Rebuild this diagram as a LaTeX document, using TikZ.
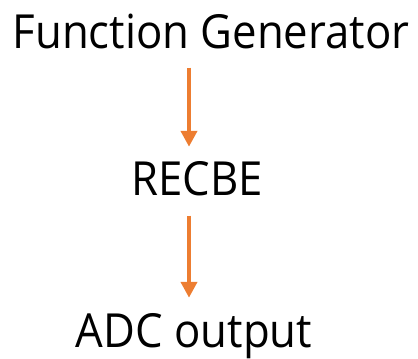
\documentclass[tikz,border=0pt]{standalone}
\usepackage{fontspec}
\setmainfont[FakeStretch=0.93]{Open Sans}
\usepackage{tikz}
\usetikzlibrary{arrows.meta,positioning}
\definecolor{flowor}{HTML}{ED7D31}
\tikzset{
  label/.style={inner sep=0pt,font=\fontsize{47}{56}\selectfont},
  flow/.style={flowor,line width=4.5pt,-{Triangle[width=16pt,length=16pt]}}
}
\begin{document}
\begin{tikzpicture}[x=1pt,y=-1pt]
        \useasboundingbox (0,0) rectangle (418,359);
        \node[label,anchor=base] (fg) at (211,48) {Function Generator};
        \node[label,anchor=base] (recbe) at (197,195) {RECBE};
        \node[label,anchor=base] (adc) at (194,347) {ADC output};
        \coordinate (ax) at (189,0);
        \draw[flow,shorten <=19pt,shorten >=14pt] (fg.south -| ax) -- (recbe.north -| ax);
        \draw[flow,shorten <=20pt,shorten >=15pt] (recbe.south -| ax) -- (adc.north -| ax);
      \end{tikzpicture}
\end{document}
